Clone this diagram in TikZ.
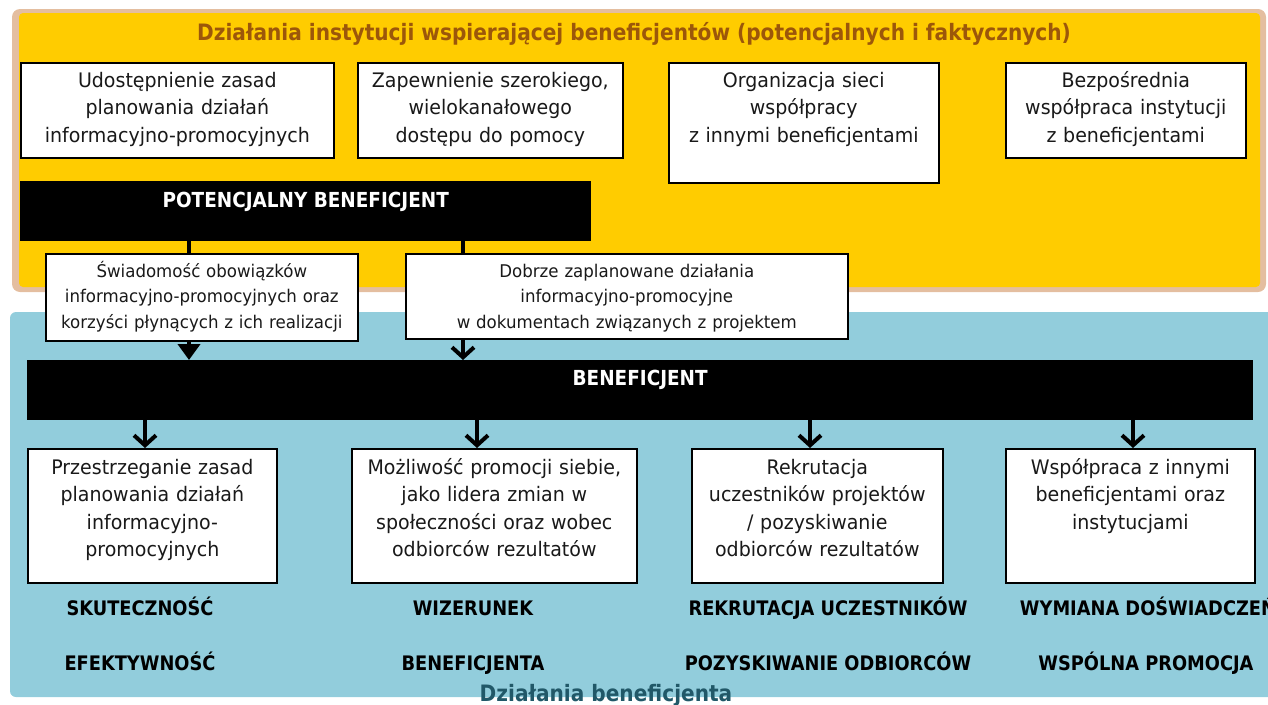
\documentclass[tikz,border=0pt]{standalone}
\usepackage{fontspec}
\setmainfont{DejaVu Sans}[FakeStretch=0.95]
\newfontfamily\lblfont{DejaVu Sans}[FakeStretch=0.89]
\usetikzlibrary{arrows.meta}
\definecolor{panelY}{RGB}{255,204,0}
\definecolor{panelTan}{RGB}{228,190,160}
\definecolor{panelB}{RGB}{146,205,220}
\definecolor{titleBrown}{RGB}{156,87,10}
\definecolor{titleTeal}{RGB}{33,88,104}
\definecolor{boxtext}{RGB}{25,25,25}
\begin{document}
\begin{tikzpicture}[x=1pt,y=-1pt,
  box/.style={draw=black,line width=1.6pt,fill=white,inner sep=0pt,anchor=north west},
  btxt/.style={anchor=base,align=center,text width=#1,inner sep=0pt,text=boxtext,
     font=\fontsize{20}{27.5}\selectfont},
  stxt/.style={anchor=base,align=center,text width=#1,inner sep=0pt,text=boxtext,
     font=\fontsize{17.5}{25.5}\selectfont},
  bar/.style={fill=black,inner sep=0pt,anchor=north west},
  bartxt/.style={anchor=base,inner sep=0pt,text=white,font=\lblfont\bfseries\fontsize{20.7}{24}\selectfont},
  lbl/.style={anchor=base,inner sep=0pt,text=black,font=\lblfont\bfseries\fontsize{20}{24}\selectfont},
  conn/.style={draw=black,line width=4pt},
  arrT/.style={conn,-{Triangle[length=16pt,width=22pt]}},
  arrV/.style={conn,-{Straight Barb[length=10pt,width=22pt]}}]
\useasboundingbox (0,0) rectangle (1268,704);
% panels
\fill[panelTan,rounded corners=8pt] (12,9) rectangle (1266,292);
\fill[panelY,rounded corners=4pt] (19,13) rectangle (1260,287);
\fill[panelB,rounded corners=6pt] (10,312) rectangle (1290,697);
% title
\node[anchor=base,inner sep=0pt,text=titleBrown,font=\lblfont\bfseries\fontsize{22.6}{26}\selectfont] (title) at (634,40)
  {Działania instytucji wspierającej beneficjentów (potencjalnych i faktycznych)};
% top row boxes
\node[box,minimum width=313pt,minimum height=95pt] (t1) at (20,62) {};
\node[btxt=310pt] (t1t) at ([yshift=-25pt]t1.north) {Udostępnienie zasad\\planowania działań\\informacyjno-promocyjnych};
\node[box,minimum width=265pt,minimum height=95pt] (t2) at (357,62) {};
\node[btxt=262pt] (t2t) at ([yshift=-25pt]t2.north) {Zapewnienie szerokiego,\\wielokanałowego\\dostępu do pomocy};
\node[box,minimum width=270pt,minimum height=120pt] (t3) at (668,62) {};
\node[btxt=267pt] (t3t) at ([yshift=-25pt]t3.north) {Organizacja sieci\\współpracy\\z innymi beneficjentami};
\node[box,minimum width=240pt,minimum height=95pt] (t4) at (1005,62) {};
\node[btxt=237pt] (t4t) at ([yshift=-25pt]t4.north) {Bezpośrednia\\współpraca instytucji\\z beneficjentami};
% potential beneficiary bar
\node[bar,minimum width=571pt,minimum height=60pt] (potbar) at (20,181) {};
\node[bartxt] (potbart) at ([yshift=-26pt]potbar.north) {POTENCJALNY BENEFICJENT};
% middle boxes
\node[box,minimum width=312pt,minimum height=87pt] (s1) at (45,253) {};
\node[stxt=309pt] (s1t) at ([yshift=-24pt]s1.north) {Świadomość obowiązków\\informacyjno-promocyjnych oraz\\korzyści płynących z ich realizacji};
\node[box,minimum width=442pt,minimum height=85pt] (s2) at (405,253) {};
\node[stxt=439pt] (s2t) at ([yshift=-24pt]s2.north) {Dobrze zaplanowane działania\\informacyjno-promocyjne\\w dokumentach związanych z projektem};
% beneficiary bar
\node[bar,minimum width=1226pt,minimum height=60pt] (benbar) at (27,360) {};
\node[bartxt] (benbart) at ([yshift=-25pt]benbar.north) {BENEFICJENT};
% bottom boxes
\node[box,minimum width=249pt,minimum height=134pt] (b1) at (27,448) {};
\node[btxt=246pt] (b1t) at ([yshift=-26pt]b1.north) {Przestrzeganie zasad\\planowania działań\\informacyjno-\\promocyjnych};
\node[box,minimum width=285pt,minimum height=134pt] (b2) at (351,448) {};
\node[btxt=282pt] (b2t) at ([yshift=-26pt]b2.north) {Możliwość promocji siebie,\\jako lidera zmian w\\społeczności oraz wobec\\odbiorców rezultatów};
\node[box,minimum width=251pt,minimum height=134pt] (b3) at (691,448) {};
\node[btxt=248pt] (b3t) at ([yshift=-26pt]b3.north) {Rekrutacja\\uczestników projektów\\/ pozyskiwanie\\odbiorców rezultatów};
\node[box,minimum width=249pt,minimum height=134pt] (b4) at (1005,448) {};
\node[btxt=246pt] (b4t) at ([yshift=-26pt]b4.north) {Współpraca z innymi\\beneficjentami oraz\\instytucjami};
% connector x positions
\coordinate (xa) at (189,0);
\coordinate (xb) at (463,0);
\coordinate (x1) at (145,0);
\coordinate (x2) at (477,0);
\coordinate (x3) at (810,0);
\coordinate (x4) at (1133,0);
\draw[conn] (potbar.south -| xa) -- (s1.north -| xa);
\draw[conn] (potbar.south -| xb) -- (s2.north -| xb);
\draw[arrT] (s1.south -| xa) -- (benbar.north -| xa);
\draw[arrV] (s2.south -| xb) -- (benbar.north -| xb);
\draw[arrV] (benbar.south -| x1) -- (b1.north -| x1);
\draw[arrV] (benbar.south -| x2) -- (b2.north -| x2);
\draw[arrV] (benbar.south -| x3) -- (b3.north -| x3);
\draw[arrV] (benbar.south -| x4) -- (b4.north -| x4);
% labels
\node[lbl] (l1a) at (140,615) {SKUTECZNOŚĆ};
\node[lbl] (l1b) at (140,670) {EFEKTYWNOŚĆ};
\node[lbl] (l2a) at (473,615) {WIZERUNEK};
\node[lbl] (l2b) at (473,670) {BENEFICJENTA};
\node[lbl] (l3a) at (828,615) {REKRUTACJA UCZESTNIKÓW};
\node[lbl] (l3b) at (828,670) {POZYSKIWANIE ODBIORCÓW};
\node[lbl] (l4a) at (1148,615) {WYMIANA DOŚWIADCZEŃ};
\node[lbl] (l4b) at (1146,670) {WSPÓLNA PROMOCJA};
\node[anchor=base,inner sep=0pt,text=titleTeal,font=\lblfont\bfseries\fontsize{22.6}{26}\selectfont] (foot) at (606,701) {Działania beneficjenta};
\end{tikzpicture}
\end{document}
